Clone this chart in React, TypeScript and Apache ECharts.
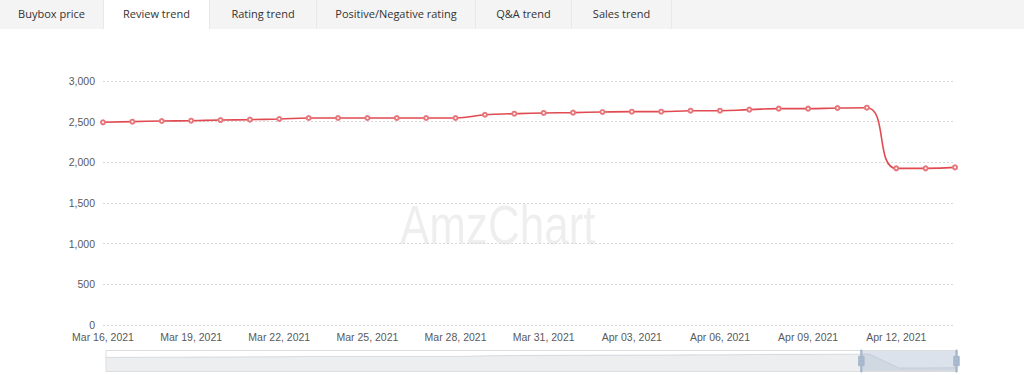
import React, { useEffect, useRef } from "react";
import * as echarts from "echarts";

const dates = [
  "Mar 16, 2021", "Mar 17, 2021", "Mar 18, 2021", "Mar 19, 2021", "Mar 20, 2021",
  "Mar 21, 2021", "Mar 22, 2021", "Mar 23, 2021", "Mar 24, 2021", "Mar 25, 2021",
  "Mar 26, 2021", "Mar 27, 2021", "Mar 28, 2021", "Mar 29, 2021", "Mar 30, 2021",
  "Mar 31, 2021", "Apr 01, 2021", "Apr 02, 2021", "Apr 03, 2021", "Apr 04, 2021",
  "Apr 05, 2021", "Apr 06, 2021", "Apr 07, 2021", "Apr 08, 2021", "Apr 09, 2021",
  "Apr 10, 2021", "Apr 11, 2021", "Apr 12, 2021", "Apr 13, 2021", "Apr 14, 2021",
];

const reviewCounts = [
  2492, 2500, 2508, 2512, 2520, 2525, 2533, 2545, 2545, 2545,
  2545, 2545, 2545, 2585, 2598, 2607, 2611, 2619, 2623, 2623,
  2635, 2635, 2648, 2660, 2660, 2668, 2672, 1926, 1926, 1938,
];

const yMin = 0;
const yMax = 3000;
const yStep = 500;

const tabs = [
  "Buybox price",
  "Review trend",
  "Rating trend",
  "Positive/Negative rating",
  "Q&A trend",
  "Sales trend",
];
const activeTab = "Review trend";
const watermark = "AmzChart";

const tabWidths = [104, 106, 107, 159, 96, 100];

const ECH4_HANDLE =
  "path://M8.2,13.6V3.9H6.3v9.7H3.1v14.9h3.3v9.7h1.8v-9.7h3.3V13.6H8.2z M9.7,24.4H4.8v-1.4h4.9V24.4z M9.7,19.1H4.8v-1.4h4.9V19.1z";

export default function App() {
  const ref = useRef<HTMLDivElement>(null);

  useEffect(() => {
    if (!ref.current) return;
    const chart = echarts.init(ref.current, undefined, { renderer: "svg" });
    const axisFont = "'Liberation Sans', Arial, Helvetica, sans-serif";
    chart.setOption({
      animation: false,
      backgroundColor: "transparent",
      graphic: [
        {
          type: "text",
          x: 400,
          y: 198,
          scaleX: 0.8,
          z: -10,
          silent: true,
          style: {
            text: watermark,
            font: `55px ${axisFont}`,
            fill: "rgba(0,0,0,0.065)",
          },
        },
      ],
      grid: [
        { left: 103, right: 69, top: 81, bottom: 50, containLabel: false },
        { left: 103, right: 69, top: 81, bottom: 50, containLabel: false, show: false },
      ],
      xAxis: [
        {
          type: "category",
          gridIndex: 0,
          data: dates,
          boundaryGap: false,
          axisLine: { show: false },
          axisTick: { show: false },
          axisLabel: {
            interval: 2,
            color: "#5a5a5a",
            fontSize: 10.5,
            fontFamily: axisFont,
            margin: 6,
          },
          splitLine: { show: false },
        },
        {
          type: "category",
          gridIndex: 1,
          data: dates,
          boundaryGap: false,
          show: false,
        },
      ],
      yAxis: [
        {
          type: "value",
          gridIndex: 0,
          min: yMin,
          max: yMax,
          interval: yStep,
          axisLine: { show: false },
          axisTick: { show: false },
          axisLabel: {
            color: "#5a5a5a",
            fontSize: 10.5,
            fontFamily: axisFont,
            margin: 8,
            formatter: (v: number) => v.toLocaleString("en-US"),
          },
          splitLine: {
            show: true,
            lineStyle: { color: "#d9d9d9", type: [2, 2], width: 1 },
          },
        },
        { type: "value", gridIndex: 1, show: false },
      ],
      dataZoom: [
        {
          type: "slider",
          xAxisIndex: 1,
          filterMode: "none",
          start: 88.6,
          end: 100,
          left: 103,
          right: 69,
          top: 350,
          height: 22,
          showDetail: false,
          showDataShadow: true,
          brushSelect: false,
          moveHandleSize: 0,
          backgroundColor: "rgba(47,69,84,0)",
          borderColor: "#dddddd",
          fillerColor: "rgba(167,183,204,0.4)",
          handleIcon: ECH4_HANDLE,
          handleSize: "100%",
          handleStyle: { color: "#a7b7cc", borderColor: "#a7b7cc" },
          dataBackground: {
            lineStyle: { color: "#2f4554", width: 0.5, opacity: 0.3 },
            areaStyle: { color: "rgba(47,69,84,0.3)", opacity: 0.3 },
          },
          selectedDataBackground: {
            lineStyle: { color: "#2f4554", width: 0.5, opacity: 0.3 },
            areaStyle: { color: "rgba(47,69,84,0.3)", opacity: 0.3 },
          },
        },
      ],
      series: [
        {
          type: "line",
          xAxisIndex: 0,
          yAxisIndex: 0,
          data: reviewCounts,
          smooth: true,
          symbol: "emptyCircle",
          symbolSize: 4,
          showSymbol: true,
          lineStyle: { color: "#e04a50", width: 1.6 },
          itemStyle: { color: "#e8777b", borderWidth: 1 },
          z: 3,
        },
        {
          type: "line",
          xAxisIndex: 1,
          yAxisIndex: 1,
          data: reviewCounts,
          symbol: "none",
          silent: true,
          lineStyle: { opacity: 0 },
        },
      ],
    });
    return () => chart.dispose();
  }, []);

  return (
    <div
      style={{
        position: "absolute",
        left: 0,
        top: 0,
        width: 1024,
        height: 375,
        background: "#fff",
        overflow: "hidden",
      }}
    >
      <div ref={ref} style={{ position: "absolute", left: 0, top: 0, width: 1024, height: 375 }} />
      <div
        style={{
          position: "absolute",
          left: 0,
          top: 0,
          width: 1024,
          height: 29,
          background: "#f4f4f4",
          display: "flex",
          zIndex: 2,
          fontFamily: "'Open Sans', sans-serif",
          fontSize: 11,
          color: "#333",
        }}
      >
        {tabs.map((t, i) => (
          <div
            key={t}
            style={{
              width: tabWidths[i],
              height: 29,
              lineHeight: "27px",
              textAlign: "center",
              background: t === activeTab ? "#fff" : "transparent",
              borderRight: "1px solid #e8e8e8",
              boxSizing: "border-box",
              whiteSpace: "nowrap",
            }}
          >
            {t}
          </div>
        ))}
      </div>
    </div>
  );
}
